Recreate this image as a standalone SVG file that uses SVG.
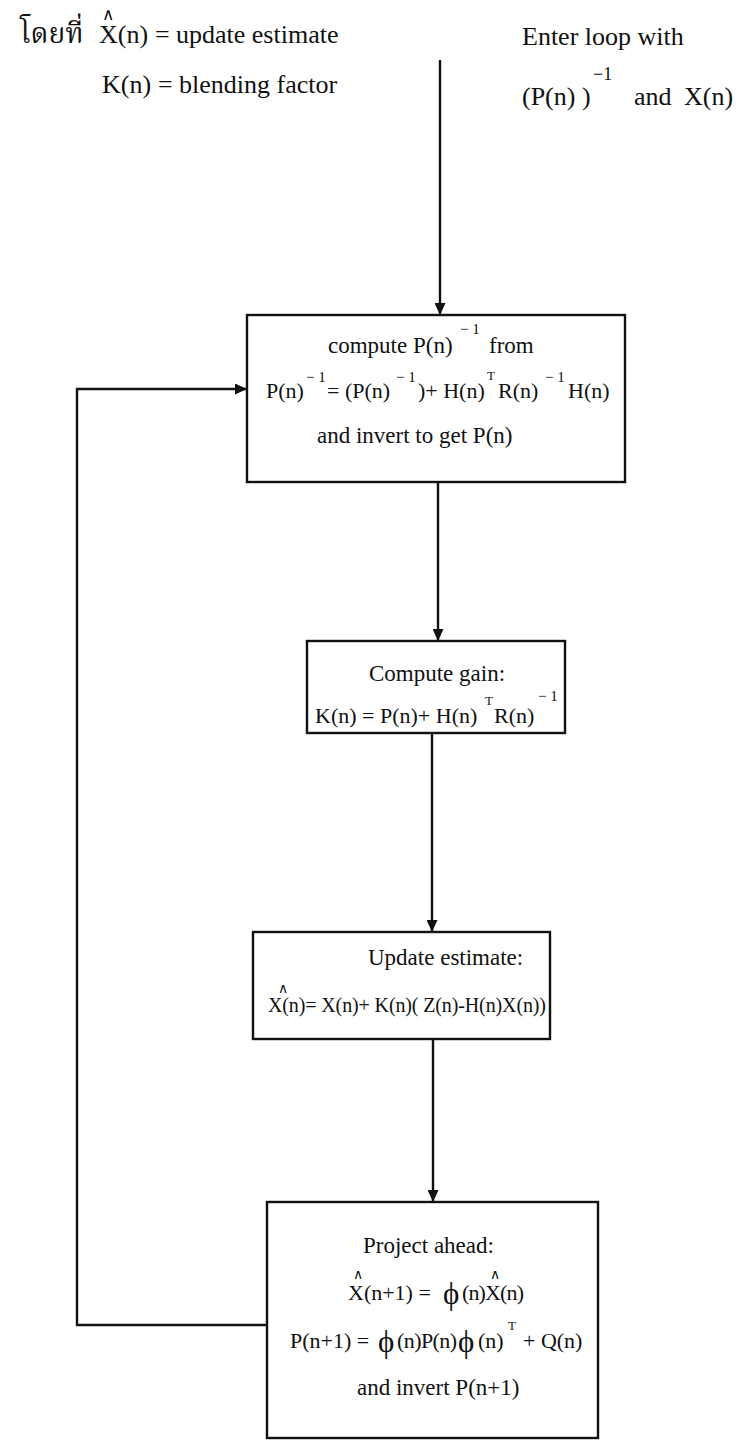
<svg xmlns="http://www.w3.org/2000/svg" width="742" height="1440" viewBox="0 0 742 1440">
<style>
text{font-family:"Liberation Serif","Times New Roman",serif;fill:#111;font-size:22px}
.h{font-size:23px}
.big{font-size:26px}
.sup{font-size:15px}
.supbig{font-size:18px}
.t{font-size:13px}
.hat{font-family:"DejaVu Sans",sans-serif;font-size:14px}
.hatbig{font-family:"DejaVu Sans",sans-serif;font-size:17px}
.phi{font-size:31px}
.thai{font-family:"Noto Serif Thai","Norasi","Kinnari","Laksaman","Garuda","Noto Sans Thai","Loma","DejaVu Sans",serif;font-size:28px}
.box{fill:#fff;stroke:#111;stroke-width:2.4}
.ln{fill:none;stroke:#111;stroke-width:2.4}
</style>
<defs>
<marker id="ah" markerWidth="12" markerHeight="11" refX="11" refY="5.5" orient="auto" markerUnits="userSpaceOnUse">
<path d="M0,0 L12,5.5 L0,11 Z" fill="#111"/>
</marker>
</defs>
<rect width="742" height="1440" fill="#fff"/>

<g id="legend">
<text class="thai" x="20" y="43">โดยที่</text>
<text class="hatbig" x="102" y="20">∧</text>
<text class="big" x="99" y="43">X(n)</text>
<text class="big" x="155" y="43">=</text>
<text class="big" x="176" y="43">update estimate</text>
<text class="big" x="102" y="93">K(n)</text>
<text class="big" x="158" y="93">=</text>
<text class="big" x="179" y="93">blending factor</text>
</g>

<g id="entry-label">
<text class="big" x="522" y="45">Enter loop with</text>
<text class="big" x="522" y="105">(P(n) )</text>
<text class="supbig" x="593" y="80">−1</text>
<text class="big" x="634" y="105">and</text>
<text class="big" x="684" y="105">X(n)</text>
</g>

<g id="connectors">
<line class="ln" x1="440" y1="60" x2="440" y2="314" marker-end="url(#ah)"/>
<line class="ln" x1="438" y1="482" x2="438" y2="640" marker-end="url(#ah)"/>
<line class="ln" x1="432" y1="733" x2="432" y2="931" marker-end="url(#ah)"/>
<line class="ln" x1="433" y1="1039" x2="433" y2="1201" marker-end="url(#ah)"/>
<polyline class="ln" points="267,1325 77,1325 77,389 246,389" marker-end="url(#ah)"/>
</g>

<g id="node-compute-P">
<rect class="box" x="247" y="315" width="378" height="167"/>
<text class="h" x="328" y="353">compute P(n)</text>
<text class="sup" x="460" y="334">− 1</text>
<text class="h" x="489" y="353">from</text>
<text x="266" y="398">P(n)</text>
<text class="sup" x="306" y="382">− 1</text>
<text x="327" y="398">= (P(n)</text>
<text class="sup" x="396" y="382">− 1</text>
<text x="418" y="398">)+ H(n)</text>
<text class="t" x="487" y="380">T</text>
<text x="498" y="398">R(n)</text>
<text class="sup" x="545" y="382">− 1</text>
<text x="568" y="398">H(n)</text>
<text class="h" x="317" y="443">and invert to get P(n)</text>
</g>

<g id="node-gain">
<rect class="box" x="307" y="641" width="258" height="92"/>
<text class="h" x="369" y="681">Compute gain:</text>
<text x="315" y="723">K(n) = P(n)+ H(n)</text>
<text class="t" x="485" y="705">T</text>
<text x="494" y="723">R(n)</text>
<text class="sup" x="538" y="701">− 1</text>
</g>

<g id="node-update">
<rect class="box" x="253" y="932" width="297" height="107"/>
<text class="h" x="368" y="965">Update estimate:</text>
<text class="hat" x="278" y="993">∧</text>
<text x="268" y="1012" style="font-size:20px" textLength="278">X(n)= X(n)+ K(n)( Z(n)-H(n)X(n))</text>
</g>

<g id="node-project">
<rect class="box" x="267" y="1202" width="331" height="236"/>
<text class="h" x="363" y="1253">Project ahead:</text>
<text class="hat" x="353" y="1279">∧</text>
<text x="348" y="1300">X(n+1) =</text>
<text class="phi" x="443" y="1304">ϕ</text>
<text x="462" y="1300" textLength="62">(n)X(n)</text>
<text class="hat" x="490" y="1279">∧</text>
<text x="290" y="1348">P(n+1) =</text>
<text class="phi" x="378" y="1352">ϕ</text>
<text x="397" y="1348" textLength="60">(n)P(n)</text>
<text class="phi" x="458" y="1352">ϕ</text>
<text x="478" y="1348">(n)</text>
<text class="t" x="508" y="1330">T</text>
<text x="523" y="1348">+ Q(n)</text>
<text class="h" x="357" y="1395">and invert P(n+1)</text>
</g>
</svg>
